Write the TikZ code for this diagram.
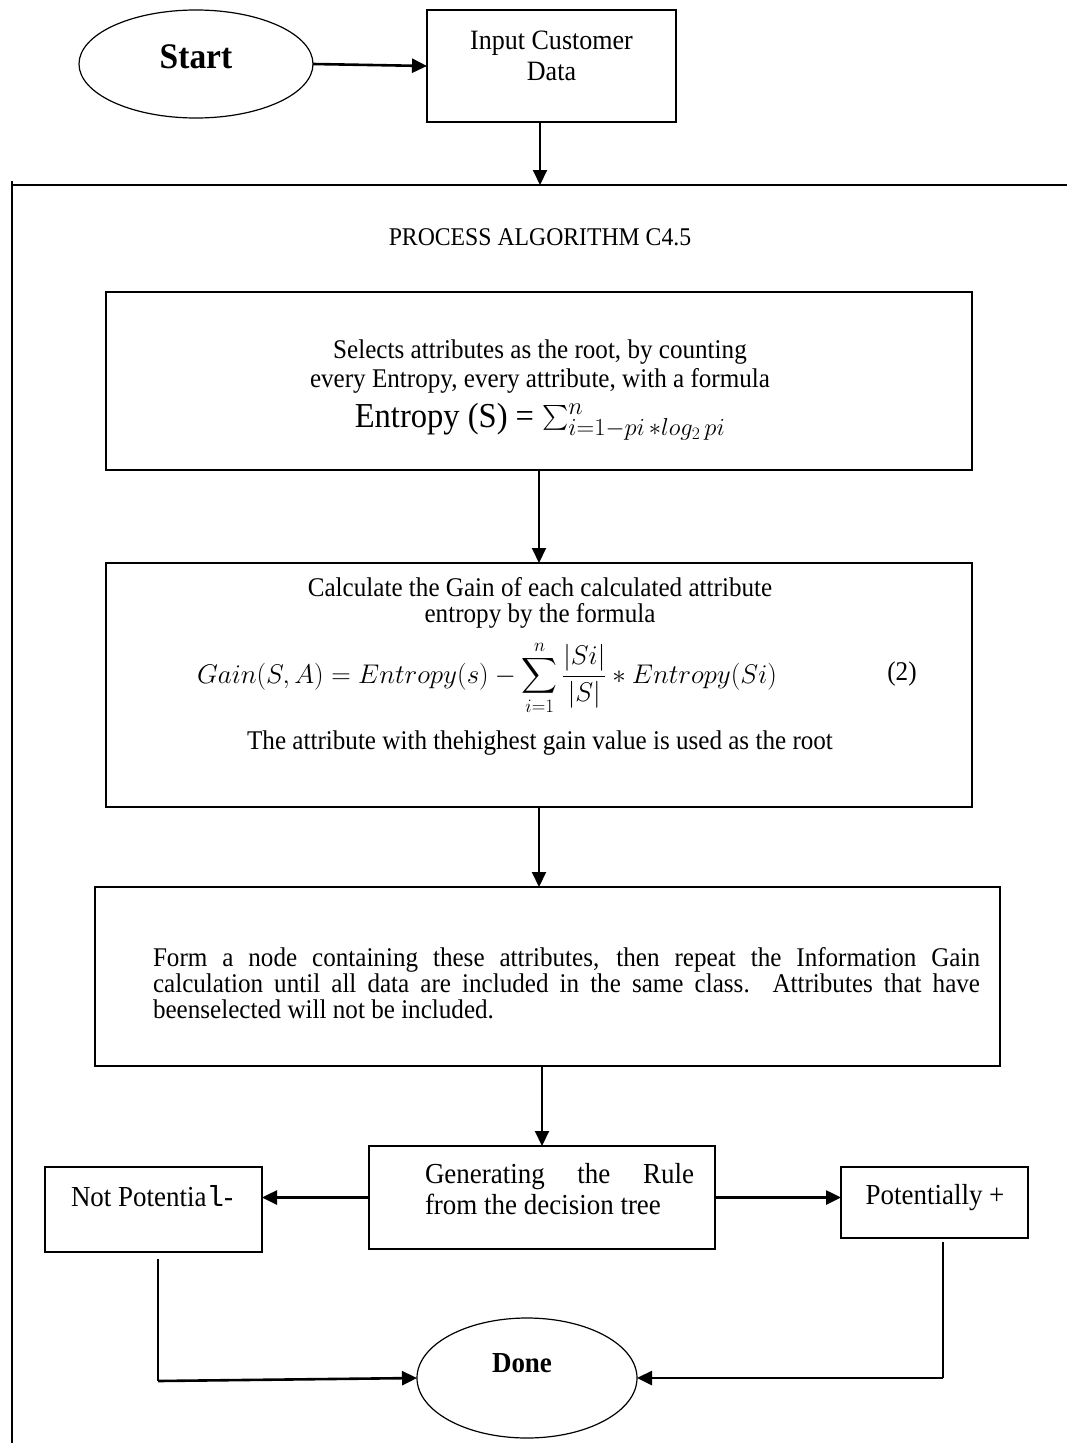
\RequirePackage{fix-cm}
\documentclass[tikz,border=0pt]{standalone}
\usepackage{amsmath}
\usepackage{fontspec}
\setmainfont[FakeStretch=0.93]{Liberation Serif}
\setmonofont{Liberation Mono}
\usetikzlibrary{arrows.meta,shapes.geometric}
\begin{document}
\begin{tikzpicture}[x=1pt,y=-1pt,
  box/.style={draw, line width=1.6pt, rectangle, inner sep=0pt, outer sep=0pt},
  oval/.style={draw, line width=1.2pt, ellipse, inner sep=0pt, outer sep=0pt},
  txt/.style={inner sep=0pt, outer sep=0pt, font=\fontsize{27}{29}\selectfont},
  big/.style={font=\fontsize{29}{32}\selectfont},
  arr/.style={line width=2pt, -{Triangle[length=15pt,width=14pt]}},
  harr/.style={line width=2.6pt, -{Triangle[length=15pt,width=14pt]}},
  frame/.style={line width=1.8pt},
  leg/.style={line width=1.2pt}
]
\useasboundingbox (0,0) rectangle (1067,1443);
\fill[white] (0,0) rectangle (1067,1443);

% top
\node[oval, minimum width=234pt, minimum height=108pt] (start) at (196,64) {};
\node[txt, anchor=base, font=\fontsize{36}{40}\selectfont\bfseries] (starttxt) at (196,68) {Start};
\node[box, minimum width=249pt, minimum height=112pt] (input) at (551.5,66) {};
\node[txt, anchor=base, font=\fontsize{28}{31}\selectfont] (in1) at (551.5,49) {Input Customer};
\node[txt, anchor=base, font=\fontsize{28}{31}\selectfont] (in2) at (551.5,80) {Data};
\draw[harr] (start.east) -- (input.west);

% frame
\coordinate (hl) at (540,185);
\coordinate (fl) at (12,185);
\coordinate (fr) at (1067,185);
\coordinate (vt) at (12,181);
\coordinate (vb) at (12,1443);
\draw[frame] (fl) -- (fr);
\draw[frame] (vt) -- (vb);
\draw[arr] (input.south -| hl) -- (hl);

\node[txt, anchor=base, font=\fontsize{25.5}{28}\selectfont] (proc) at (540,245) {PROCESS ALGORITHM C4.5};

% box 1
\node[box, minimum width=866pt, minimum height=178pt] (b1) at (539,381) {};
\node[txt, anchor=base] (b1l1) at (540,358) {Selects attributes as the root, by counting};
\node[txt, anchor=base] (b1l2) at (540,387) {every Entropy, every attribute, with a formula};
\node[txt, anchor=base, font=\fontsize{35}{38}\selectfont] (b1l3) at (540,427)
  {Entropy (S) = $\sum_{i=1-pi\,*log_2\,pi}^{n}$};

% box 2
\node[box, minimum width=866pt, minimum height=244pt] (b2) at (539,685) {};
\node[txt, anchor=base] (b2l1) at (540,596) {Calculate the Gain of each calculated attribute};
\node[txt, anchor=base] (b2l2) at (540,622) {entropy by the formula};
\node[txt, font=\fontsize{27}{31}\selectfont] (b2f) at (487,678)
  {$\displaystyle Gain(S,A) = Entropy(s) - \sum_{i=1}^{n}\frac{|Si|}{|S|} * Entropy(Si)$};
\node[txt, font=\fontsize{27}{31}\selectfont] (b2n) at (902,674) {(2)};
\node[txt, anchor=base] (b2l3) at (540,749) {The attribute with thehighest gain value is used as the root};

% box 3
\node[box, minimum width=905pt, minimum height=179pt] (b3) at (547.5,976.5) {};
\node[txt, anchor=base west, text width=827pt, align=justify, font=\fontsize{27}{26}\selectfont] (b3t) at (153,966)
  {Form a node containing these attributes, then repeat the Information Gain\linebreak calculation until all data are included in the same class. Attributes that have\linebreak beenselected will not be included.};

\draw[arr] (b1.south) -- (b2.north);
\draw[arr] (b2.south) -- (b2.south |- b3.north);

% bottom row
\node[box, minimum width=346pt, minimum height=103pt] (gen) at (542,1197.5) {};
\node[txt, big, anchor=base west] (gen1) at (425,1183) {\hbox to 269pt{Generating\hfill the\hfill Rule}};
\node[txt, big, anchor=base west] (gen2) at (425,1214) {from the decision tree};
\draw[arr] (gen.north |- b3.south) -- (gen.north);

\node[box, minimum width=217pt, minimum height=85pt] (np) at (153.5,1209.5) {};
\node[txt, big, anchor=base] (nptxt) at (152,1206) {Not Potentia{\ttfamily l}-};
\node[box, minimum width=187pt, minimum height=71pt] (pp) at (934.5,1202.5) {};
\node[txt, big, anchor=base] (pptxt) at (935,1204) {Potentially +};

\draw[harr] (gen.west) -- (gen.west -| np.east);
\draw[harr] (gen.east) -- (gen.east -| pp.west);

% done
\node[oval, minimum width=220pt, minimum height=120pt] (done) at (527,1378) {};
\node[txt, anchor=base, font=\fontsize{29}{32}\selectfont\bfseries] (donetxt) at (522,1372) {Done};

\coordinate (lt) at (158,1259);
\coordinate (lb) at (158,1381);
\coordinate (rt) at (943,1242);
\draw[leg] (lt) -- (lb);
\draw[harr] (lb) -- (done.west);
\draw[leg] (rt) -- (rt |- done.east);
\draw[harr] (rt |- done.east) -- (done.east);
\end{tikzpicture}
\end{document}
